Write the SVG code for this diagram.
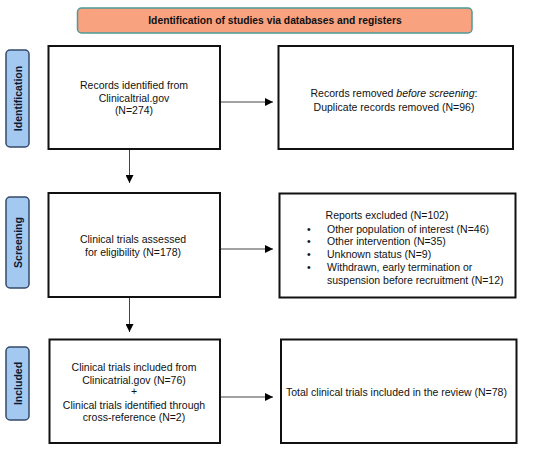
<svg xmlns="http://www.w3.org/2000/svg" width="550" height="450" viewBox="0 0 550 450">
<defs>
<style>
.box{fill:#fff;stroke:#111;stroke-width:2}
.t{font-family:"Liberation Sans",Arial,sans-serif;font-size:10.5px;fill:#111}
.c{text-anchor:middle}
.conn{stroke:#444;stroke-width:1;fill:none;marker-end:url(#ah)}
</style>
<marker id="ah" viewBox="0 0 10 10" refX="10" refY="5" markerWidth="8" markerHeight="8" markerUnits="userSpaceOnUse" orient="auto">
<path d="M0,0 L10,5 L0,10 z" fill="#000"/>
</marker>
</defs>
<rect width="550" height="450" fill="#fff"/>
<g id="header">
<rect x="77.5" y="8" width="394.5" height="25" rx="4" fill="#f9a27f" stroke="#4e9a98" stroke-width="1.5"/>
<text x="275" y="24" font-family="Liberation Sans,Arial,sans-serif" font-size="10.3" font-weight="bold" fill="#111" text-anchor="middle">Identification of studies via databases and registers</text>
</g>
<g id="phase-identification">
<rect x="6" y="50" width="23" height="97" rx="4" fill="#a3c9f0" stroke="#34496a" stroke-width="1.5"/>
<text font-family="Liberation Sans,Arial,sans-serif" font-size="10.5" font-weight="bold" fill="#0f1830" text-anchor="middle" transform="translate(21.5,98.5) rotate(-90)">Identification</text>
</g>
<g id="phase-screening">
<rect x="6" y="197" width="23" height="91" rx="4" fill="#a3c9f0" stroke="#34496a" stroke-width="1.5"/>
<text font-family="Liberation Sans,Arial,sans-serif" font-size="10.5" font-weight="bold" fill="#0f1830" text-anchor="middle" transform="translate(21.5,242.5) rotate(-90)">Screening</text>
</g>
<g id="phase-included">
<rect x="6" y="347" width="23" height="73" rx="4" fill="#a3c9f0" stroke="#34496a" stroke-width="1.5"/>
<text font-family="Liberation Sans,Arial,sans-serif" font-size="10.5" font-weight="bold" fill="#0f1830" text-anchor="middle" transform="translate(21.5,383.5) rotate(-90)">Included</text>
</g>
<g id="box-records">
<rect class="box" x="48.5" y="46" width="171.5" height="103"/>
<text class="t c" x="134" y="89">Records identified from</text>
<text class="t c" x="134" y="102">Clinicaltrial.gov</text>
<text class="t c" x="134" y="114">(N=274)</text>
</g>
<g id="box-removed">
<rect class="box" x="278.5" y="46" width="234.5" height="103"/>
<text class="t c" x="394" y="97">Records removed <tspan font-style="italic">before screening</tspan>:</text>
<text class="t c" x="394" y="111">Duplicate records removed (N=96)</text>
</g>
<g id="box-assessed">
<rect class="box" x="48.5" y="193" width="171.5" height="104"/>
<text class="t c" x="133" y="243">Clinical trials assessed</text>
<text class="t c" x="133" y="256">for eligibility (N=178)</text>
</g>
<g id="box-excluded">
<rect class="box" x="279.5" y="193.5" width="236" height="104"/>
<text class="t c" x="387" y="219">Reports excluded (N=102)</text>
<g class="t">
<text x="307" y="233">•</text><text x="327" y="233">Other population of interest (N=46)</text>
<text x="307" y="245">•</text><text x="327" y="245">Other intervention (N=35)</text>
<text x="307" y="258">•</text><text x="327" y="258">Unknown status (N=9)</text>
<text x="307" y="271">•</text><text x="327" y="271">Withdrawn, early termination or</text>
<text x="327" y="284">suspension before recruitment (N=12)</text>
</g>
</g>
<g id="box-included">
<rect class="box" x="49.5" y="339.5" width="170.5" height="103.5"/>
<text class="t c" x="134" y="371">Clinical trials included from</text>
<text class="t c" x="134" y="384">Clinicatrial.gov (N=76)</text>
<text class="t c" x="134" y="395">+</text>
<text class="t c" x="134" y="409">Clinical trials identified through</text>
<text class="t c" x="134" y="421">cross-reference (N=2)</text>
</g>
<g id="box-total">
<rect class="box" x="281" y="339.5" width="235.5" height="103.5"/>
<text class="t" x="286" y="396">Total clinical trials included in the review (N=78)</text>
</g>
<g id="connectors">
<line class="conn" x1="221" y1="102" x2="273" y2="102"/>
<line class="conn" x1="129.5" y1="150" x2="129.5" y2="183"/>
<line class="conn" x1="221" y1="249" x2="273" y2="249"/>
<line class="conn" x1="129.5" y1="298" x2="129.5" y2="332"/>
<line class="conn" x1="221" y1="397" x2="273" y2="397"/>
</g>
</svg>
